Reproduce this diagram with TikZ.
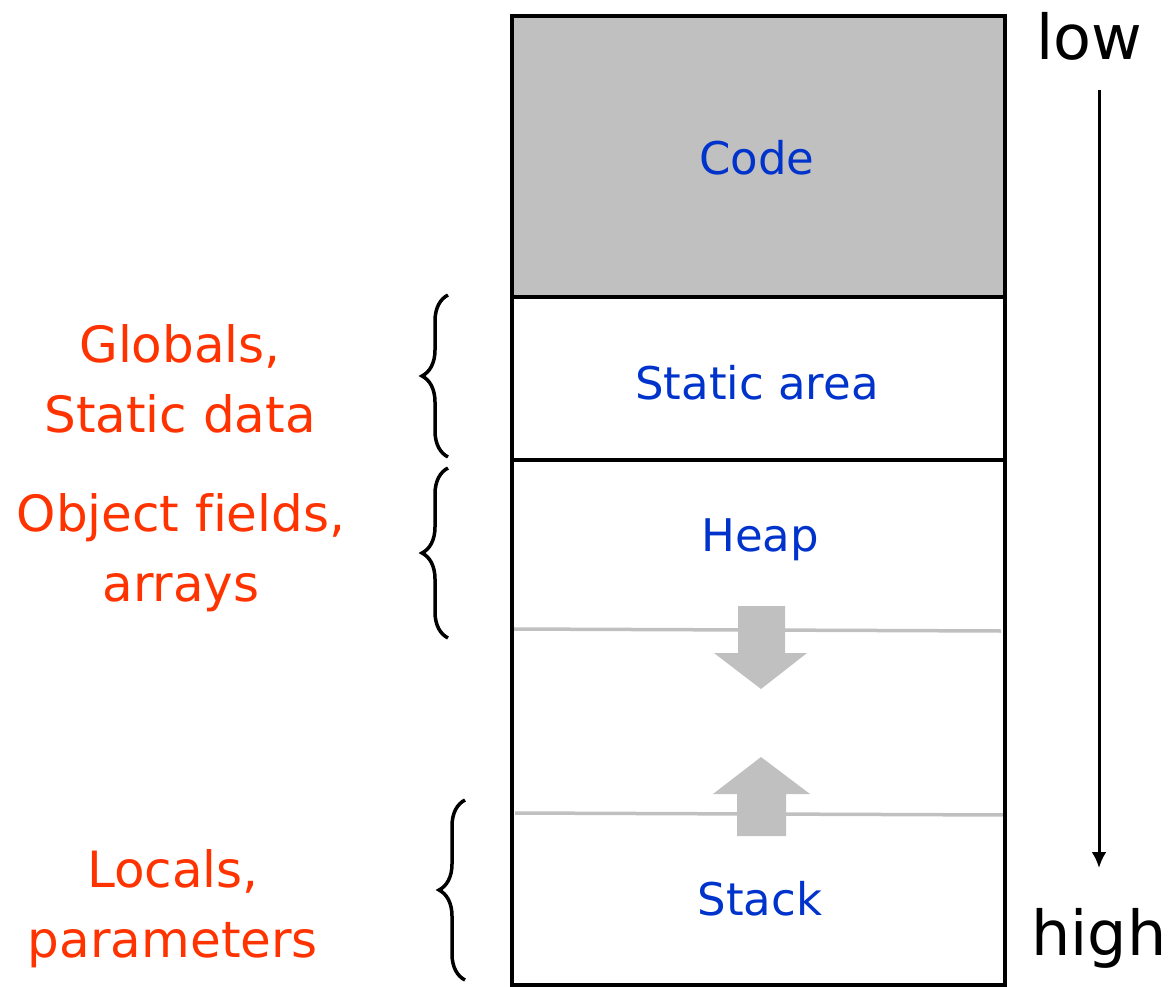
\documentclass[tikz,border=0pt]{standalone}
\usepackage{fontspec}
\setmainfont{DejaVu Sans}[Ligatures=NoCommon]
\usetikzlibrary{arrows.meta,decorations.pathreplacing}
\definecolor{areablue}{RGB}{0,51,204}
\definecolor{notered}{RGB}{255,51,0}
\definecolor{growgray}{RGB}{192,192,192}

\begin{document}
\begin{tikzpicture}[x=1pt,y=-1pt,line width=4pt,
	area/.style={text=areablue,inner sep=0pt,font=\fontsize{45}{54}\selectfont},
	note/.style={text=notered,align=center,inner sep=0pt,font=\fontsize{50}{70}\selectfont},
	ends/.style={inner sep=0pt,font=\fontsize{62}{70}\selectfont},
	curly/.style={decorate,decoration={brace,amplitude=26pt},line width=3.5pt}]
	\useasboundingbox (0,0) rectangle (1175,987);

		\fill[growgray] (512,16) rectangle (1005,297); % Code
		
		\draw[growgray, line width=3.5pt] (510,629) -- (1001,631); % heap limit
		\draw[growgray, line width=3.5pt] (515,813) -- (1006,815); % stack limit
		
		\fill[growgray] (738,606) -- (785,606) -- (785,653) -- (807,653) -- (761,689) -- (714,653) -- (738,653) -- cycle;
		\fill[growgray] (737,836) -- (786,836) -- (786,794) -- (810,794) -- (761,757) -- (713,794) -- (737,794) -- cycle;
		
		\draw (512,16) rectangle (1005,297);
		\draw (512,297) rectangle (1005,460);
		\draw (512,460) rectangle (1005,985);
		
		\draw[curly] (448,457) -- (448,295); % Globals
		\draw[curly] (448,638) -- (448,468); % Objects
		\draw[curly] (465,980) -- (465,800); % Locals

		\node[area] (code) at (757,158) {Code};
		\node[area] (static) at (757,383) {Static area};
		\node[area] (heap) at (760,540) {Heap};
		\node[area] (stack) at (760,899) {Stack};
		
		\node[note] (globals) at (180,379) {Globals,\\Static data};
		\node[note] (objects) at (181,553) {Object fields,\\arrays};
		\node[note] (locals) at (173,909) {Locals,\\parameters};
		
		\node[ends] (low) at (1089,36) {low};
		\node[ends] (high) at (1099,938) {high};
		
		\draw[-{Latex[length=16pt,width=15pt]}, line width=3pt, shorten <=28pt, shorten >=38pt] (low.south -| high) -- (high.north);
	\end{tikzpicture}
\end{document}
